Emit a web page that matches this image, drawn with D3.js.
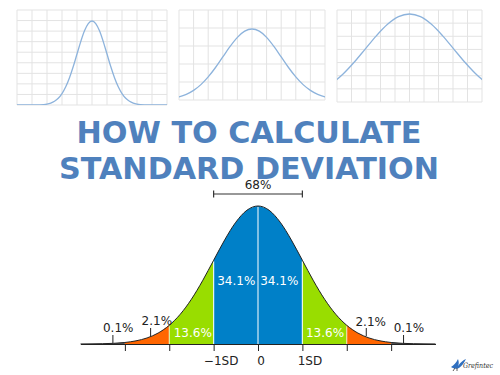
<!DOCTYPE html>
<html>
<head>
<meta charset="utf-8">
<script src="https://cdn.jsdelivr.net/npm/d3@7"></script>
<style>
  body { margin: 0; background: #fff; }
  svg { display: block; font-family: "DejaVu Sans", Verdana, sans-serif; }
</style>
</head>
<body>
<svg id="chart" width="500" height="375"></svg>
<script>
var zSteps = [-5, -4.5, -4, -3.5, -3, -2.75, -2.5, -2.25, -2, -1.75, -1.5, -1.25, -1, -0.75, -0.5, -0.25, 0,
              0.25, 0.5, 0.75, 1, 1.25, 1.5, 1.75, 2, 2.25, 2.5, 2.75, 3, 3.5, 4, 4.5, 5];
var bellHeights = [0, 0, 0.0001, 0.0009, 0.0044, 0.0091, 0.0175, 0.0317, 0.054, 0.0863, 0.1295, 0.1826, 0.242, 0.3011, 0.3521, 0.3867, 0.3989,
                   0.3867, 0.3521, 0.3011, 0.242, 0.1826, 0.1295, 0.0863, 0.054, 0.0317, 0.0175, 0.0091, 0.0044, 0.0009, 0.0001, 0, 0];

// how many SD each of the three small panels shows on either side
var panelSpreads = [5, 2.5, 1.65];

// main diagram
var bandEdges = [-4, -3, -2, -1, 0, 1, 2, 3, 4];
var bandShares = ["0.1%", "2.1%", "13.6%", "34.1%", "34.1%", "13.6%", "2.1%", "0.1%"];
var tickValues = [-3, -2, -1, 0, 1, 2, 3];
var tickLabels = ["", "", "\u22121SD", "0", "1SD", "", ""];
var bracketShare = "68%";

var titleLines = ["HOW TO CALCULATE", "STANDARD DEVIATION"];

var bandColors = ["#555", "#ff6600", "#99dd00", "#0080c8", "#0080c8", "#99dd00", "#ff6600", "#555"];

var points = zSteps.map(function(z, i) { return {z: z, h: bellHeights[i]}; });
var svg = d3.select('#chart');

/* small panels */
var panels = [
  {x0: 17, x1: 167, y0: 10, y1: 105, peak: 21, rows: 9},
  {x0: 179, x1: 325, y0: 10, y1: 100, peak: 29, rows: 5},
  {x0: 337, x1: 482, y0: 10, y1: 102, peak: 14, rows: 7}
];

panels.forEach(function(p, i) {
  var s = panelSpreads[i];
  var x = d3.scaleLinear().domain([-s, s]).range([p.x0, p.x1]);
  var y = d3.scaleLinear().domain([0, d3.max(bellHeights)]).range([p.y1, p.peak]);
  var g = svg.append('g');

  g.append('clipPath').attr('id', 'clip' + i)
    .append('rect').attr('x', p.x0).attr('y', p.y0 - 5)
    .attr('width', p.x1 - p.x0).attr('height', p.y1 - p.y0 + 5);

  var cols = d3.range(11).map(function(k) { return p.x0 + k * (p.x1 - p.x0) / 10; });
  var rows = d3.range(p.rows + 1).map(function(k) { return p.y0 + k * (p.y1 - p.y0) / p.rows; });

  g.selectAll('.vg').data(cols).enter().append('line')
    .attr('x1', function(d) { return d; }).attr('x2', function(d) { return d; })
    .attr('y1', p.y0).attr('y2', p.y1)
    .attr('stroke', '#e3e3e3').attr('stroke-width', 1);
  g.selectAll('.hg').data(rows).enter().append('line')
    .attr('x1', p.x0).attr('x2', p.x1)
    .attr('y1', function(d) { return d; }).attr('y2', function(d) { return d; })
    .attr('stroke', '#e3e3e3').attr('stroke-width', 1);

  var line = d3.line()
    .x(function(d) { return x(d.z); })
    .y(function(d) { return y(d.h); })
    .curve(d3.curveMonotoneX);

  g.append('path').datum(points)
    .attr('clip-path', 'url(#clip' + i + ')')
    .attr('d', line)
    .attr('fill', 'none')
    .attr('stroke', '#8db3dc')
    .attr('stroke-width', 1.3);
});

/* title */
svg.selectAll('.title').data(titleLines).enter().append('text')
  .attr('x', 249)
  .attr('y', function(d, i) { return 143 + i * 35.5; })
  .attr('text-anchor', 'middle')
  .attr('font-size', 31)
  .attr('font-weight', 'bold')
  .attr('fill', '#4f81bd')
  .attr('textLength', function(d, i) { return i == 0 ? 345 : 380; })
  .attr('lengthAdjust', 'spacingAndGlyphs')
  .text(function(d) { return d; });

/* main bell */
var x = d3.scaleLinear().domain([-4, 4]).range([80.5, 435.5]);
var y = d3.scaleLinear().domain([0, d3.max(bellHeights)]).range([344, 206]);

var area = d3.area()
  .x(function(d) { return x(d.z); })
  .y0(y(0))
  .y1(function(d) { return y(d.h); })
  .curve(d3.curveMonotoneX);

var bands = svg.append('g');
bandShares.forEach(function(share, i) {
  var lo = bandEdges[i], hi = bandEdges[i + 1];
  var seg = points.filter(function(d) { return d.z >= lo && d.z <= hi; });
  bands.append('path').datum(seg)
    .attr('d', area)
    .attr('fill', bandColors[i]);
});

// white dividers between bands
svg.selectAll('.divider').data([-2, -1, 0, 1, 2]).enter().append('line')
  .attr('x1', function(d) { return x(d); }).attr('x2', function(d) { return x(d); })
  .attr('y1', y(0))
  .attr('y2', function(d) { return y(bellHeights[zSteps.indexOf(d)]) + 1; })
  .attr('stroke', '#fff')
  .attr('stroke-opacity', function(d) { return Math.abs(d) == 2 ? 0.6 : 0.85; })
  .attr('stroke-width', 1.2);

var outline = d3.line()
  .x(function(d) { return x(d.z); })
  .y(function(d) { return y(d.h); })
  .curve(d3.curveMonotoneX);

svg.append('path')
  .datum(points.filter(function(d) { return d.z >= -4 && d.z <= 4; }))
  .attr('d', outline)
  .attr('fill', 'none')
  .attr('stroke', '#222')
  .attr('stroke-width', 1);

// axis
var axis = svg.append('g')
  .attr('transform', 'translate(0,344)')
  .call(d3.axisBottom(x)
    .tickValues(tickValues)
    .tickFormat(function(d, i) { return tickLabels[i]; })
    .tickSize(7)
    .tickSizeOuter(0));

axis.select('.domain').attr('stroke', '#222').attr('stroke-width', 1.2);
axis.selectAll('.tick line').attr('stroke', '#222');
var labelShift = {'-1': 7, '0': 2.5, '1': 7};
axis.selectAll('.tick text')
  .attr('y', 21).attr('dy', 0)
  .attr('dx', function(d) { return labelShift[d] || 0; })
  .attr('font-family', '"DejaVu Sans", sans-serif')
  .attr('font-size', 12)
  .attr('fill', '#222');

// labels inside bands
var insideLabels = [
  {band: 2, z: -1.47, y: 337},
  {band: 3, z: -0.49, y: 285},
  {band: 4, z: 0.48, y: 285},
  {band: 5, z: 1.51, y: 337}
];
svg.selectAll('.inlab').data(insideLabels).enter().append('text')
  .attr('x', function(d) { return x(d.z); })
  .attr('y', function(d) { return d.y; })
  .attr('text-anchor', 'middle')
  .attr('font-size', 12)
  .attr('fill', '#fff')
  .text(function(d) { return bandShares[d.band]; });

// labels outside with leader lines
var outsideLabels = [
  {band: 0, z: -3.15, y: 332, lz: -3.27, ly0: 335, ly1: 343},
  {band: 1, z: -2.28, y: 325, lz: -2.42, ly0: 328, ly1: 336},
  {band: 6, z: 2.54, y: 326, lz: 2.44, ly0: 328, ly1: 336},
  {band: 7, z: 3.4, y: 332, lz: 3.28, ly0: 335, ly1: 343}
];
var out = svg.selectAll('.outlab').data(outsideLabels).enter().append('g');
out.append('text')
  .attr('x', function(d) { return x(d.z); })
  .attr('y', function(d) { return d.y; })
  .attr('text-anchor', 'middle')
  .attr('font-size', 12)
  .attr('fill', '#222')
  .text(function(d) { return bandShares[d.band]; });
out.append('line')
  .attr('x1', function(d) { return x(d.lz); }).attr('x2', function(d) { return x(d.lz); })
  .attr('y1', function(d) { return d.ly0; }).attr('y2', function(d) { return d.ly1; })
  .attr('stroke', '#222');

// 68% bracket
var br = svg.append('g');
br.append('line').attr('x1', x(-1)).attr('x2', x(1)).attr('y1', 194).attr('y2', 194)
  .attr('stroke', '#333').attr('stroke-width', 1.2);
br.selectAll('.cap').data([-1, 1]).enter().append('line')
  .attr('x1', function(d) { return x(d); }).attr('x2', function(d) { return x(d); })
  .attr('y1', 190.5).attr('y2', 197.5)
  .attr('stroke', '#333').attr('stroke-width', 1.2);
br.append('text').attr('x', x(0)).attr('y', 189)
  .attr('text-anchor', 'middle').attr('font-size', 12).attr('fill', '#222')
  .text(bracketShare);

// logo
var logo = svg.append('g').attr('transform', 'translate(449,356)');
logo.append('path')
  .attr('d', 'M2,11 C5,9 7,7 9,3 C10,6 10,8 9,10 C12,6 14,4 17,3 C15,7 13,10 10,12 C8,13 5,13 2,11 Z')
  .attr('fill', '#2f6fbf');
logo.append('path')
  .attr('d', 'M6,12 L4,15 M8,12 L8,15')
  .attr('stroke', '#333').attr('stroke-width', 0.8);
logo.append('text').attr('x', 14).attr('y', 12)
  .attr('font-family', '"DejaVu Serif", serif')
  .attr('font-style', 'italic')
  .attr('font-size', 7.5)
  .attr('fill', '#333')
  .attr('textLength', 30)
  .attr('lengthAdjust', 'spacingAndGlyphs')
  .text('Grefintec');
</script>
</body>
</html>
